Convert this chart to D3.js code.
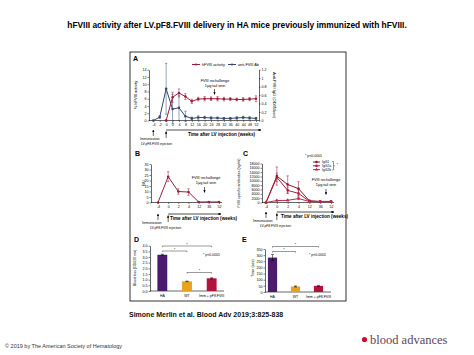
<!DOCTYPE html>
<html><head><meta charset="utf-8">
<script src="https://cdn.jsdelivr.net/npm/d3@7"></script>
<style>body{margin:0;background:#fff}svg{display:block}</style>
</head><body>
<svg id="c" width="474" height="355"></svg>
<script>
// ---------- DATA ----------
const weeksA = ["-4","-2","0","2","4","8","12","16","20","24","28","32","36","40","44","48","52"];
const hfviiiWeeks = ["0","2","4","8","12","16","20","24","28","32","36","40","44","48","52"];
const hfviiiActivity = [0, 6.4, 7.6, 6.6, 5.3, 5.9, 6.0, 6.0, 6.0, 5.9, 5.9, 5.8, 5.8, 5.9, 6.0];
const hfviiiErr = [0.2, 1.4, 1.1, 0.8, 0.6, 0.5, 0.6, 0.5, 0.6, 0.5, 0.4, 0.4, 0.5, 0.4, 0.8];
const antiAb = [0, 0.08, 0.75, 0.27, 0.3, 0.1, 0.05, 0.07, 0.07, 0.06, 0.06, 0.05, 0.05, 0.06, 0.07, 0.06, 0.05];
const antiAbErr = [0, 0.03, 0.6, 0.35, 0.3, 0.12, 0.03, 0.04, 0.03, 0.03, 0.02, 0.02, 0.02, 0.03, 0.03, 0.03, 0.02];
const ticksALeft = [0,2,4,6,8,10,12,14];
const ticksARight = [0,0.2,0.4,0.6,0.8,1,1.2];

const weeksBC = ["-4","0","2","4","12","36","52"];
const bu = [0, 23.5, 10, 9.5, 0.5, 0.5, 0.5];
const buErr = [0, 4.5, 2.5, 3, 0.3, 0.3, 0.3];
const ticksB = [0,5,10,15,20,25,30,35];

const isotypes = ["IgG1","IgG2a","IgG2b"];
const igg1 = [0, 12200, 8300, 6400, 800, 500, 500];
const igg1Err = [0, 4200, 4000, 3200, 300, 200, 200];
const igg2a = [0, 11600, 5600, 4200, 600, 400, 400];
const igg2aErr = [0, 2000, 1500, 1500, 300, 200, 200];
const igg2b = [0, 900, 1000, 1800, 500, 400, 400];
const igg2bErr = [0, 300, 300, 500, 200, 100, 100];
const ticksC = [0,2000,4000,6000,8000,10000,12000,14000,16000,18000];

const groups = ["HA","WT","Imm + pF8.FVIII"];
const bloodLoss = [3.2, 0.85, 1.12];
const bloodLossErr = [0.05, 0.03, 0.05];
const ticksD = [0,0.5,1,1.5,2,2.5,3,3.5,4];
const clotTime = [280, 45, 50];
const clotTimeErr = [25, 4, 4];
const ticksE = [0,50,100,150,200,250,300,350];

// ---------- SETUP ----------
const svg = d3.select("#c");
const FONT = "Liberation Sans, Arial, Helvetica, sans-serif";
const RED = "#9c1c3c", BLUE = "#34476f";
const BAR_COLORS = ["#4b1c6e", "#e8a21c", "#b3123a"];
const C_COLORS = ["#8e1530", "#a81d3d", "#c0274a"];

const defs = svg.append("defs");
defs.append("marker").attr("id","arr").attr("viewBox","0 0 10 10").attr("refX",9).attr("refY",5)
  .attr("markerWidth",4).attr("markerHeight",4).attr("orient","auto")
  .append("path").attr("d","M0,0L10,5L0,10z").attr("fill","#000");

function txt(x, y, s, o = {}) {
  const t = svg.append("text").attr("x", x).attr("y", y).text(s)
    .attr("font-family", o.family || FONT).attr("font-size", o.size || 4)
    .attr("fill", o.fill || "#000").attr("text-anchor", o.anchor || "start");
  if (o.weight) t.attr("font-weight", o.weight);
  if (o.rotate) t.attr("transform", `rotate(${o.rotate},${x},${y})`);
  return t;
}
function styleAxis(g) {
  g.selectAll("text").attr("font-size", 3.6).attr("font-family", FONT).attr("fill","#000");
  g.select(".domain").attr("stroke-width", 0.6);
  g.selectAll(".tick line").attr("stroke-width", 0.5);
}
function yAxis(scale, x, ticks, fmt, right) {
  const ax = (right ? d3.axisRight(scale) : d3.axisLeft(scale)).tickValues(ticks)
    .tickSize(1.5).tickSizeOuter(0).tickPadding(1).tickFormat(fmt);
  const g = svg.append("g").attr("transform", `translate(${x},0)`).call(ax);
  styleAxis(g);
  return g;
}
function xAxis(scale, y, x0, x1) {
  const ax = d3.axisBottom(scale).tickSize(1.5).tickSizeOuter(0).tickPadding(1.5);
  const g = svg.append("g").attr("transform", `translate(0,${y})`).call(ax);
  styleAxis(g);
  g.select(".domain").remove();
  svg.append("line").attr("x1", x0).attr("x2", x1).attr("y1", y).attr("y2", y)
    .attr("stroke","#000").attr("stroke-width",0.6);
  return g;
}
function errBars(xs, ys, errs, xS, yS, color, cap = 1.2) {
  xs.forEach((k, i) => {
    if (!errs[i]) return;
    const x = xS(k), y0 = yS(ys[i] - errs[i]), y1 = yS(ys[i] + errs[i]);
    const g = svg.append("g").attr("stroke", color).attr("stroke-width", 0.5);
    g.append("line").attr("x1", x).attr("x2", x).attr("y1", y0).attr("y2", y1);
    g.append("line").attr("x1", x - cap).attr("x2", x + cap).attr("y1", y1).attr("y2", y1);
    g.append("line").attr("x1", x - cap).attr("x2", x + cap).attr("y1", y0).attr("y2", y0);
  });
}
function series(xs, ys, xS, yS, color, shape = "circle") {
  svg.append("path").datum(xs.map((k, i) => [xS(k), yS(ys[i])]))
    .attr("d", d3.line()).attr("fill","none").attr("stroke", color).attr("stroke-width", 1);
  const sym = shape === "square" ? d3.symbolSquare : shape === "triangle" ? d3.symbolTriangle : d3.symbolCircle;
  xs.forEach((k, i) => {
    svg.append("path").attr("d", d3.symbol(sym, 5)())
      .attr("transform", `translate(${xS(k)},${yS(ys[i])})`).attr("fill", color);
  });
}
function downArrow(x, y0, y1) {
  svg.append("line").attr("x1", x).attr("x2", x).attr("y1", y0).attr("y2", y1)
    .attr("stroke","#000").attr("stroke-width",0.6).attr("marker-end","url(#arr)");
}
function timeRow(xStart, xEnd, y, xImm, xLv, immX, lvX, textX) {
  svg.append("line").attr("x1", xStart).attr("x2", xEnd).attr("y1", y).attr("y2", y)
    .attr("stroke","#000").attr("stroke-width",0.7).attr("marker-end","url(#arr)");
  txt(textX, y + 5.5, "Time after LV injection (weeks)", {size: 4.6, weight: "bold"});
  downArrow(xImm, y + 6, y);
  downArrow(xLv, y + 8, y + 1.5);
  txt(immX, y + 9.5, "Immunization", {size: 3.3});
  txt(lvX, y + 15, "LV.pF8.FVIII injection", {size: 3.3});
}

// ---------- FRAME / TEXT ----------
svg.append("rect").attr("x",130).attr("y",52).attr("width",216).attr("height",249)
  .attr("fill","none").attr("stroke","#000").attr("stroke-width",0.8);
txt(237, 28, "hFVIII activity after LV.pF8.FVIII delivery in HA mice previously immunized with hFVIII.",
  {size: 8.4, weight: "bold", anchor: "middle"});
txt(129, 316.5, "Simone Merlin et al. Blood Adv 2019;3:825-838", {size: 7, weight: "bold", fill: "#111"});
txt(5, 347.5, "\u00A9 2019 by The American Society of Hematology", {size: 5.5, fill: "#333"});
svg.append("circle").attr("cx",364.5).attr("cy",339.5).attr("r",2.6).attr("fill","#c8102e");
txt(370, 343.5, "blood advances", {size: 12.5, family: "Liberation Serif, Times New Roman, serif", fill: "#5a4658"});

// ---------- PANEL A ----------
txt(133, 61, "A", {size: 7, weight: "bold"});
const xA = d3.scalePoint().domain(weeksA).range([153.3, 256]);
const yAL = d3.scaleLinear().domain([0, 14]).range([120.5, 69.7]);
const yAR = d3.scaleLinear().domain([0, 1.2]).range([120.5, 69.7]);
yAxis(yAL, 149, ticksALeft, d3.format("d"));
yAxis(yAR, 259, ticksARight, d => d === 0 || d === 1 ? String(d) : d3.format(".1f")(d), true);
xAxis(xA, 120.5, 149, 259);
txt(137, 95, "% hFVIII activity", {size: 4, rotate: -90, anchor: "middle"});
txt(273, 95, "Anti-FVIII IgG (OD450nm)", {size: 4, rotate: 90, anchor: "middle"});
errBars(weeksA, antiAb, antiAbErr, xA, yAR, BLUE);
series(weeksA, antiAb, xA, yAR, BLUE);
errBars(hfviiiWeeks, hfviiiActivity, hfviiiErr, xA, yAL, RED);
series(hfviiiWeeks, hfviiiActivity, xA, yAL, RED);
// legend
svg.append("line").attr("x1",192).attr("x2",200).attr("y1",64.5).attr("y2",64.5).attr("stroke",RED).attr("stroke-width",1);
svg.append("circle").attr("cx",196).attr("cy",64.5).attr("r",1.1).attr("fill",RED);
txt(202, 66, "hFVIII activity", {size: 3.8});
svg.append("line").attr("x1",228).attr("x2",236).attr("y1",64.5).attr("y2",64.5).attr("stroke",BLUE).attr("stroke-width",1);
svg.append("circle").attr("cx",232).attr("cy",64.5).attr("r",1.1).attr("fill",BLUE);
txt(238, 66, "anti-FVIII Ab", {size: 3.8});
txt(215, 82, "FVIII rechallenge", {size: 3.8, anchor: "middle"});
txt(215, 86.5, "1\u00B5g tail vein", {size: 3.8, anchor: "middle"});
downArrow(214.5, 89, 94.5);
timeRow(xA("0"), 261, 130, xA("-4"), xA("0"), 140, 141, 188);

// ---------- PANEL B ----------
txt(135, 156, "B", {size: 7, weight: "bold"});
const xB = d3.scalePoint().domain(weeksBC).range([158, 219]);
const yB = d3.scaleLinear().domain([0, 35]).range([202.5, 164]);
yAxis(yB, 151, ticksB, d3.format("d"));
xAxis(xB, 202.5, 151, 222);
txt(145, 183, "BU", {size: 4, rotate: -90, anchor: "middle"});
errBars(weeksBC, bu, buErr, xB, yB, RED);
series(weeksBC, bu, xB, yB, RED);
txt(206, 179, "FVIII rechallenge", {size: 3.8, anchor: "middle"});
txt(206, 183.5, "1\u00B5g tail vein", {size: 3.8, anchor: "middle"});
downArrow(204.5, 187, 192.5);
timeRow(xB("0"), 221, 214, xB("-4"), xB("0"), 142, 150, 170);

// ---------- PANEL C ----------
txt(243, 156, "C", {size: 7, weight: "bold"});
const xC = d3.scalePoint().domain(weeksBC).range([266, 331]);
const yC = d3.scaleLinear().domain([0, 18000]).range([202.5, 163.5]);
yAxis(yC, 262, ticksC, d3.format("d"));
xAxis(xC, 202.5, 262, 334);
txt(240, 183, "FVIII specific antibodies (ng/ml)", {size: 3.5, rotate: -90, anchor: "middle"});
const cVals = [igg1, igg2a, igg2b], cErrs = [igg1Err, igg2aErr, igg2bErr], cShapes = ["circle","square","triangle"];
cVals.forEach((v, i) => { errBars(weeksBC, v, cErrs[i], xC, yC, C_COLORS[i]); });
cVals.forEach((v, i) => { series(weeksBC, v, xC, yC, C_COLORS[i], cShapes[i]); });
txt(305, 156.5, "* p<0.0001", {size: 3.5});
isotypes.forEach((s, i) => {
  const y = 162 + i * 3.8;
  svg.append("line").attr("x1",313).attr("x2",320).attr("y1",y).attr("y2",y).attr("stroke",C_COLORS[i]).attr("stroke-width",1);
  svg.append("path").attr("d", d3.symbol(cShapes[i]==="square"?d3.symbolSquare:cShapes[i]==="triangle"?d3.symbolTriangle:d3.symbolCircle, 5)())
    .attr("transform",`translate(316.5,${y})`).attr("fill",C_COLORS[i]);
  txt(322, y + 1.2, s, {size: 3.3});
});
svg.append("path").attr("d","M332,161.5H333.5V170H332M333.5,165.8H335").attr("fill","none").attr("stroke","#000").attr("stroke-width",0.4);
txt(336.5, 166, "*", {size: 3.5});
txt(326, 181, "FVIII rechallenge", {size: 3.8, anchor: "middle"});
txt(326, 185.5, "1\u00B5g tail vein", {size: 3.8, anchor: "middle"});
downArrow(326, 189, 194.5);
timeRow(xC("0"), 334, 212, xC("-4"), xC("0"), 253, 260, 281);

// ---------- PANEL D ----------
txt(134, 242, "D", {size: 7, weight: "bold"});
const xD = d3.scaleBand().domain(groups).range([150, 224]).paddingInner(0.6).paddingOuter(0.3);
const yD = d3.scaleLinear().domain([0, 4]).range([291, 245.7]);
yAxis(yD, 150, ticksD, d3.format(".1f"));
svg.append("line").attr("x1",150).attr("x2",224).attr("y1",291).attr("y2",291).attr("stroke","#000").attr("stroke-width",0.6);
groups.forEach((g, i) => {
  svg.append("rect").attr("x", xD(g)).attr("y", yD(bloodLoss[i])).attr("width", xD.bandwidth())
    .attr("height", yD(0) - yD(bloodLoss[i])).attr("fill", BAR_COLORS[i]);
  txt(xD(g) + xD.bandwidth()/2, 297, g, {size: 3.5, anchor: "middle"});
});
errBars(groups.map(g => g), bloodLoss, bloodLossErr, g => xD(g) + xD.bandwidth()/2, yD, "#000", 1.5);
txt(136, 268, "Blood loss (OD620 nm)", {size: 3.5, rotate: -90, anchor: "middle"});
function bracket(x0, x1, y, h = 1.2) {
  svg.append("path").attr("d",`M${x0},${y + h}V${y}H${x1}V${y + h}`).attr("fill","none").attr("stroke","#000").attr("stroke-width",0.4);
}
const cD = g => xD(g) + xD.bandwidth()/2;
bracket(cD("HA"), cD("Imm + pF8.FVIII"), 246);
txt((cD("HA") + cD("Imm + pF8.FVIII"))/2, 245.5, "*", {size: 3.5, anchor: "middle"});
bracket(cD("HA"), cD("WT"), 251);
txt((cD("HA") + cD("WT"))/2, 250.5, "*", {size: 3.5, anchor: "middle"});
bracket(cD("WT"), cD("Imm + pF8.FVIII"), 272.5);
txt((cD("WT") + cD("Imm + pF8.FVIII"))/2, 272, "*", {size: 3.5, anchor: "middle"});
txt(203, 255.5, "* p<0.0001", {size: 3.5});

// ---------- PANEL E ----------
txt(242, 242, "E", {size: 7, weight: "bold"});
const xE = d3.scaleBand().domain(groups).range([261, 330]).paddingInner(0.6).paddingOuter(0.3);
const yE = d3.scaleLinear().domain([0, 350]).range([292, 249]);
yAxis(yE, 265, ticksE, d3.format("d"));
svg.append("line").attr("x1",265).attr("x2",331).attr("y1",292).attr("y2",292).attr("stroke","#000").attr("stroke-width",0.6);
const cE = g => xE(g) + xE.bandwidth()/2;
groups.forEach((g, i) => {
  svg.append("rect").attr("x", xE(g)).attr("y", yE(clotTime[i])).attr("width", xE.bandwidth())
    .attr("height", yE(0) - yE(clotTime[i])).attr("fill", BAR_COLORS[i]);
  txt(cE(g), 298, g, {size: 3.5, anchor: "middle"});
});
errBars(groups, clotTime, clotTimeErr, cE, yE, "#000", 1.5);
txt(254, 268, "Time (sec)", {size: 3.8, rotate: -90, anchor: "middle"});
bracket(cE("HA"), cE("Imm + pF8.FVIII"), 246.5);
txt((cE("HA") + cE("Imm + pF8.FVIII"))/2, 246, "*", {size: 3.5, anchor: "middle"});
bracket(cE("HA"), cE("WT"), 251.5);
txt((cE("HA") + cE("WT"))/2, 251, "*", {size: 3.5, anchor: "middle"});
txt(309, 255.5, "* p<0.0001", {size: 3.5});
</script>
</body></html>
